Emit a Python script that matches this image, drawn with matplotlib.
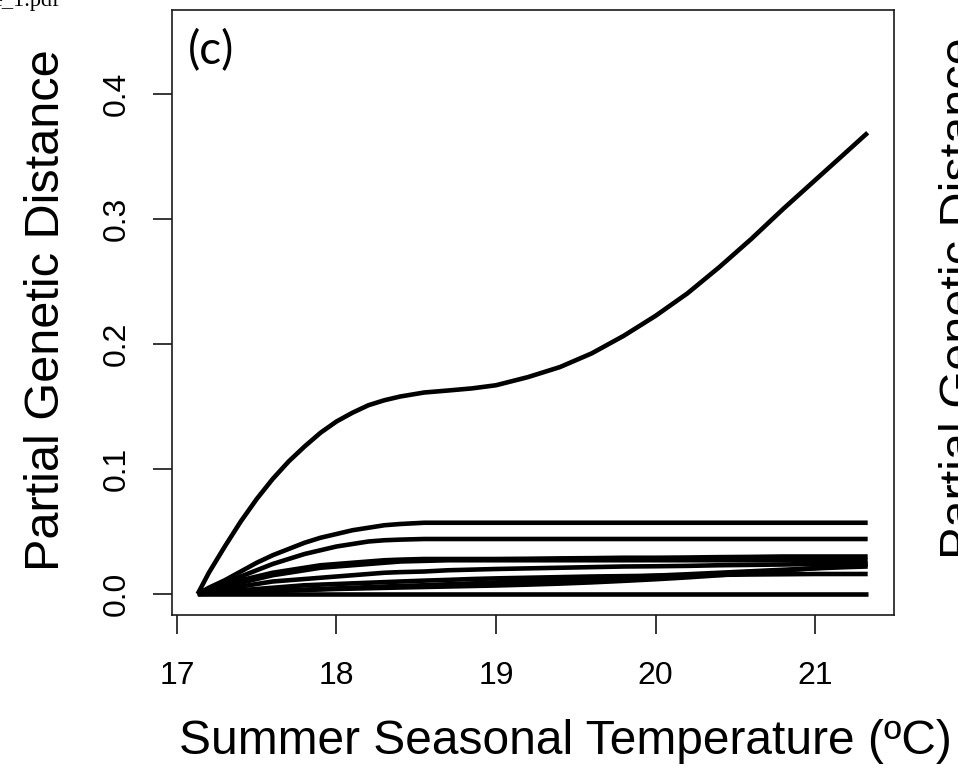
import matplotlib
matplotlib.use("Agg")
import matplotlib.pyplot as plt

# ---- data ----
temperature = [17.13, 17.2, 17.3, 17.4, 17.5, 17.6, 17.7, 17.8, 17.9, 18.0,
               18.1, 18.2, 18.3, 18.4, 18.55, 18.7, 18.85, 19.0, 19.2, 19.4,
               19.6, 19.8, 20.0, 20.2, 20.4, 20.6, 20.8, 21.0, 21.2, 21.33]

curve_top = [0.000, 0.017, 0.038, 0.058, 0.076, 0.092, 0.106, 0.118, 0.129, 0.138,
             0.145, 0.151, 0.155, 0.158, 0.1612, 0.1628, 0.1645, 0.167, 0.1735, 0.1815,
             0.1925, 0.2065, 0.2225, 0.2405, 0.2615, 0.284, 0.308, 0.331, 0.354, 0.369]
curve_a = [0.000, 0.005, 0.011, 0.018, 0.025, 0.031, 0.036, 0.041, 0.045, 0.048,
           0.051, 0.053, 0.055, 0.056, 0.057, 0.057, 0.057, 0.057, 0.057, 0.057,
           0.057, 0.057, 0.057, 0.057, 0.057, 0.057, 0.057, 0.057, 0.057, 0.057]
curve_b = [0.000, 0.004, 0.009, 0.014, 0.019, 0.024, 0.028, 0.032, 0.035, 0.038,
           0.040, 0.042, 0.043, 0.0435, 0.044, 0.044, 0.044, 0.044, 0.044, 0.044,
           0.044, 0.044, 0.044, 0.044, 0.044, 0.044, 0.044, 0.044, 0.044, 0.044]
curve_c1 = [0.000, 0.003, 0.007, 0.011, 0.014, 0.017, 0.019, 0.021, 0.023, 0.024,
            0.025, 0.026, 0.027, 0.0275, 0.028, 0.028, 0.028, 0.028, 0.0282, 0.0285,
            0.0287, 0.029, 0.029, 0.0292, 0.0295, 0.0297, 0.030, 0.030, 0.030, 0.030]
curve_c2 = [0.000, 0.003, 0.006, 0.009, 0.012, 0.015, 0.017, 0.019, 0.021, 0.022,
            0.023, 0.024, 0.025, 0.026, 0.0265, 0.027, 0.027, 0.027, 0.027, 0.027,
            0.027, 0.027, 0.027, 0.027, 0.027, 0.027, 0.027, 0.027, 0.027, 0.027]
curve_d = [0.000, 0.002, 0.004, 0.006, 0.008, 0.010, 0.011, 0.012, 0.013, 0.014,
           0.015, 0.016, 0.017, 0.0175, 0.018, 0.019, 0.0195, 0.020, 0.0205, 0.021,
           0.0215, 0.022, 0.0222, 0.0225, 0.023, 0.0233, 0.0236, 0.024, 0.024, 0.024]
curve_e = [0.000, 0.001, 0.002, 0.003, 0.004, 0.005, 0.006, 0.007, 0.0075, 0.008,
           0.0085, 0.009, 0.0095, 0.010, 0.0107, 0.0113, 0.012, 0.0125, 0.013, 0.0135,
           0.014, 0.0143, 0.0146, 0.015, 0.0153, 0.0156, 0.0158, 0.016, 0.016, 0.016]
curve_f = [0.000, 0.0003, 0.0008, 0.0013, 0.0018, 0.0023, 0.0028, 0.0032, 0.0036, 0.004,
           0.0043, 0.0046, 0.0049, 0.0052, 0.0056, 0.006, 0.0064, 0.0068, 0.0075, 0.0083,
           0.0093, 0.0105, 0.0118, 0.0133, 0.015, 0.0168, 0.0187, 0.0207, 0.0225, 0.0235]
curve_g = [0.000, 0.0005, 0.001, 0.0015, 0.002, 0.0025, 0.003, 0.0035, 0.004, 0.0045,
           0.005, 0.0055, 0.006, 0.0065, 0.007, 0.0078, 0.0085, 0.0093, 0.0103, 0.0113,
           0.0124, 0.0135, 0.0147, 0.0158, 0.017, 0.0182, 0.0194, 0.0205, 0.0215, 0.022]
curve_zero = [0.0] * 30

curves = [curve_top, curve_a, curve_b, curve_c1, curve_c2, curve_d,
          curve_e, curve_f, curve_g, curve_zero]

x_ticks = [17, 18, 19, 20, 21]
y_ticks = [0.0, 0.1, 0.2, 0.3, 0.4]
y_tick_labels = ["0.0", "0.1", "0.2", "0.3", "0.4"]

panel_label = "(c)"
x_label = "Summer Seasonal Temperature (\u00baC)"
y_label = "Partial Genetic Distance"

# ---- figure ----
plt.rcParams['font.family'] = ['Liberation Sans', 'DejaVu Sans']
W, H = 958, 772
fig = plt.figure(figsize=(W / 100, H / 100), dpi=100)
fig.patch.set_facecolor("white")

left, right, top, bottom = 172, 894, 10, 615
ax = fig.add_axes([left / W, 1 - bottom / H, (right - left) / W, (bottom - top) / H])

for yv in curves:
    ax.plot(temperature, yv, color="black", lw=3.3, solid_capstyle="butt",
            solid_joinstyle="round")

ax.set_xlim(16.969, 21.495)
ax.set_ylim(-0.0168, 0.4672)

ax.set_xticks(x_ticks)
ax.set_xticklabels([str(t) for t in x_ticks])
ax.set_yticks(y_ticks)
ax.set_yticklabels(y_tick_labels, rotation=90, va="center")

ax.tick_params(axis="both", direction="out", length=14, width=1.1,
               labelsize=23, color="black")
ax.tick_params(axis="x", pad=19)
ax.tick_params(axis="y", pad=15)
for s in ax.spines.values():
    s.set_linewidth(1.2)
    s.set_color("#1a1a1a")

ax.text(0.022, 0.968, panel_label, transform=ax.transAxes, ha="left", va="top",
        fontsize=33, family=["Lato", "DejaVu Sans"])

fig.text(565 / W, 1 - 742 / H, x_label, ha="center", va="center", fontsize=34.5)
fig.text(47 / W, 1 - 310 / H, y_label, ha="center", va="center",
         rotation=90, fontsize=35)

# cropped neighbours of the original multi-panel page
fig.text(962 / W, 1 - 298 / H, y_label, ha="center", va="center",
         rotation=90, fontsize=35)
fig.text(60 / W, 1 - 6 / H, "e_1.pdf", ha="right", va="baseline",
         fontsize=16, family=["Liberation Serif", "DejaVu Serif"])

fig.savefig("out.png", dpi=100)
